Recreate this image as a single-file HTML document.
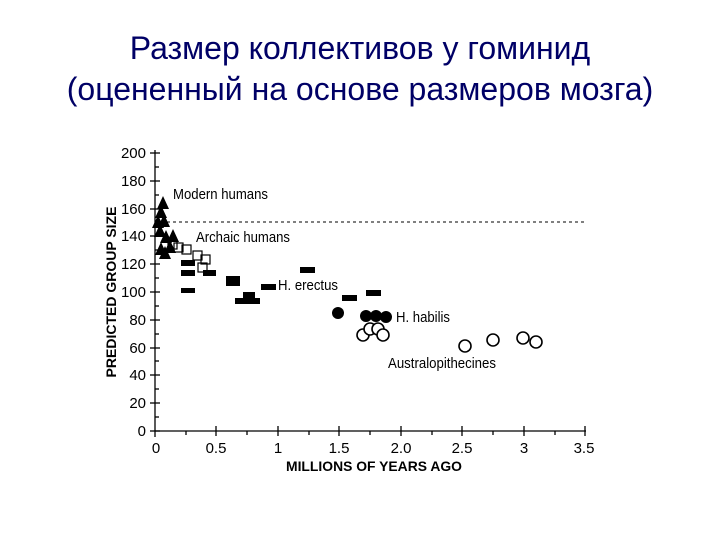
<!DOCTYPE html>
<html><head><meta charset="utf-8"><style>
body{margin:0;width:720px;height:540px;background:#fff;overflow:hidden;font-family:"Liberation Sans",sans-serif}
.t{position:absolute;left:0;width:720px;text-align:center;color:#000066;font-size:32px}
</style></head><body>
<div class="t" style="top:30px">Размер коллективов у гоминид</div>
<div class="t" style="top:71px">(оцененный на основе размеров мозга)</div>
<svg width="720" height="540" style="position:absolute;left:0;top:0" font-family="Liberation Sans, sans-serif">
<g stroke="#000" stroke-width="1.3">
<line x1="155" y1="150" x2="155" y2="431"/>
<line x1="155" y1="431" x2="586" y2="431"/>
</g>
<g stroke="#000" stroke-width="1.3">
<line x1="150" y1="431" x2="160" y2="431"/><line x1="150" y1="403" x2="160" y2="403"/><line x1="150" y1="375" x2="160" y2="375"/><line x1="150" y1="348" x2="160" y2="348"/><line x1="150" y1="320" x2="160" y2="320"/><line x1="150" y1="292" x2="160" y2="292"/><line x1="150" y1="264" x2="160" y2="264"/><line x1="150" y1="236" x2="160" y2="236"/><line x1="150" y1="209" x2="160" y2="209"/><line x1="150" y1="181" x2="160" y2="181"/><line x1="150" y1="153" x2="160" y2="153"/>
<line x1="155" y1="417" x2="159" y2="417"/><line x1="155" y1="389" x2="159" y2="389"/><line x1="155" y1="361" x2="159" y2="361"/><line x1="155" y1="334" x2="159" y2="334"/><line x1="155" y1="306" x2="159" y2="306"/><line x1="155" y1="278" x2="159" y2="278"/><line x1="155" y1="250" x2="159" y2="250"/><line x1="155" y1="222" x2="159" y2="222"/><line x1="155" y1="195" x2="159" y2="195"/><line x1="155" y1="167" x2="159" y2="167"/>
<line x1="155" y1="431" x2="155" y2="437"/><line x1="216" y1="426" x2="216" y2="436"/><line x1="278" y1="426" x2="278" y2="436"/><line x1="339" y1="426" x2="339" y2="436"/><line x1="401" y1="426" x2="401" y2="436"/><line x1="462" y1="426" x2="462" y2="436"/><line x1="524" y1="426" x2="524" y2="436"/><line x1="585" y1="426" x2="585" y2="436"/>
<line x1="186" y1="431" x2="186" y2="435"/><line x1="247" y1="431" x2="247" y2="435"/><line x1="309" y1="431" x2="309" y2="435"/><line x1="370" y1="431" x2="370" y2="435"/><line x1="432" y1="431" x2="432" y2="435"/><line x1="493" y1="431" x2="493" y2="435"/><line x1="555" y1="431" x2="555" y2="435"/>
</g>
<line x1="155" y1="222" x2="586" y2="222" stroke="#000" stroke-dasharray="3,3" stroke-width="1"/>
<g font-size="15" text-anchor="end">
<text x="146" y="436">0</text><text x="146" y="408">20</text><text x="146" y="380">40</text><text x="146" y="353">60</text><text x="146" y="325">80</text><text x="146" y="297">100</text><text x="146" y="269">120</text><text x="146" y="241">140</text><text x="146" y="214">160</text><text x="146" y="186">180</text><text x="146" y="158">200</text>
</g>
<g font-size="15" text-anchor="middle">
<text x="156" y="453">0</text><text x="216" y="453">0.5</text><text x="278" y="453">1</text><text x="339" y="453">1.5</text><text x="401" y="453">2.0</text><text x="462" y="453">2.5</text><text x="524" y="453">3</text><text x="584" y="453">3.5</text>
</g>
<text x="286" y="471" font-size="14" font-weight="bold" textLength="176" lengthAdjust="spacingAndGlyphs">MILLIONS OF YEARS AGO</text>
<text transform="translate(116,292) rotate(-90)" font-size="14" font-weight="bold" text-anchor="middle">PREDICTED GROUP SIZE</text>
<g font-size="15">
<text x="173" y="199" textLength="95" lengthAdjust="spacingAndGlyphs">Modern humans</text>
<text x="196" y="242" textLength="94" lengthAdjust="spacingAndGlyphs">Archaic humans</text>
<text x="278" y="290" textLength="60" lengthAdjust="spacingAndGlyphs">H. erectus</text>
<text x="396" y="322" textLength="54" lengthAdjust="spacingAndGlyphs">H. habilis</text>
<text x="388" y="368" textLength="108" lengthAdjust="spacingAndGlyphs">Australopithecines</text>
</g>
<g fill="none" stroke="#000" stroke-width="1.2">
<rect x="168" y="240" width="9" height="9"/><rect x="174" y="243" width="9" height="9"/><rect x="182" y="245" width="9" height="9"/><rect x="193" y="251" width="9" height="9"/><rect x="201" y="255" width="9" height="9"/><rect x="198" y="263" width="9" height="9"/>
</g>
<g fill="#000">
<polygon points="163,196 157,209 169,209"/><polygon points="161,205 155,218 167,218"/><polygon points="164,214 158,227 170,227"/><polygon points="160,224 154,237 166,237"/><polygon points="166,230 160,243 172,243"/><polygon points="161,242 155,255 167,255"/><polygon points="170,240 164,253 176,253"/><polygon points="165,246 159,259 171,259"/><polygon points="173,229 167,242 179,242"/><polygon points="158,215 152,228 164,228"/>
<rect x="181" y="260" width="14" height="6"/><rect x="181" y="270" width="14" height="6"/><rect x="181" y="288" width="14" height="5"/><rect x="203" y="270" width="13" height="6"/><rect x="226" y="276" width="14" height="10"/><rect x="235" y="298" width="14" height="6"/><rect x="243" y="292" width="12" height="7"/><rect x="248" y="298" width="12" height="6"/><rect x="261" y="284" width="15" height="6"/><rect x="300" y="267" width="15" height="6"/><rect x="342" y="295" width="15" height="6"/><rect x="366" y="290" width="15" height="6"/>
<circle cx="338" cy="313" r="6"/><circle cx="366" cy="316" r="6"/><circle cx="376" cy="316" r="6"/><circle cx="386" cy="317" r="6"/>
</g>
<g fill="#fff" stroke="#000" stroke-width="1.6">
<circle cx="363" cy="335" r="6"/><circle cx="370" cy="329" r="6"/><circle cx="378" cy="329" r="6"/><circle cx="383" cy="335" r="6"/><circle cx="465" cy="346" r="6"/><circle cx="493" cy="340" r="6"/><circle cx="523" cy="338" r="6"/><circle cx="536" cy="342" r="6"/>
</g>
</svg>
</body></html>
